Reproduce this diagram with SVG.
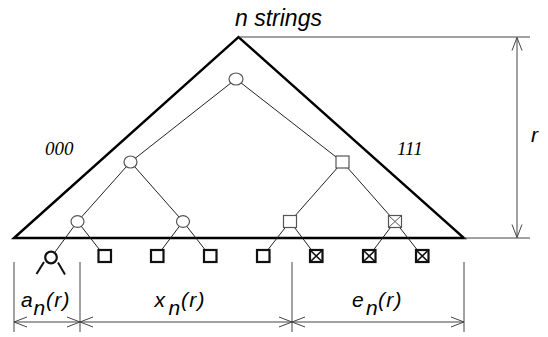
<svg xmlns="http://www.w3.org/2000/svg" width="548" height="337" viewBox="0 0 548 337">
<style>
.tri{fill:none;stroke:#000;stroke-width:2.4;stroke-linejoin:miter}
.ext{fill:none;stroke:#444;stroke-width:1}
.dim{fill:none;stroke:#444;stroke-width:1}
.edge{stroke:#222;stroke-width:1;fill:none}
.inner{fill:#fff;stroke:#555;stroke-width:1.2}
.leaf{fill:#fff;stroke:#111;stroke-width:2.2}
.leafx{fill:none;stroke:#111;stroke-width:1.6}
.innerx{fill:none;stroke:#555;stroke-width:1}
.lab{font-family:"Liberation Sans",Arial,sans-serif;font-style:italic;fill:#000}
.ser{font-family:"Liberation Serif","Times New Roman",serif;font-style:italic;fill:#000}
</style>
<defs>
<marker id="ah" markerUnits="userSpaceOnUse" markerWidth="16" markerHeight="14" viewBox="-14 -7 16 14" refX="0" refY="0" orient="auto-start-reverse">
<path d="M-13,-5 L0,0 L-13,5" fill="none" stroke="#444" stroke-width="1"/>
</marker>
</defs>

<g id="triangle">
<path class="tri" d="M14,238 L238.5,37 L464,238 Z"/>
</g>

<g id="dimensions">
<line class="ext" x1="238.5" y1="37" x2="530" y2="37"/>
<line class="ext" x1="464" y1="238" x2="530" y2="238"/>
<line class="dim" x1="517" y1="37.5" x2="517" y2="237.5" marker-start="url(#ah)" marker-end="url(#ah)"/>
<line class="ext" x1="14" y1="262" x2="14" y2="332"/>
<line class="ext" x1="80" y1="262" x2="80" y2="332"/>
<line class="ext" x1="292" y1="262" x2="292" y2="332"/>
<line class="ext" x1="464" y1="262" x2="464" y2="332"/>
<line class="dim" x1="14" y1="322" x2="80" y2="322" marker-start="url(#ah)" marker-end="url(#ah)"/>
<line class="dim" x1="80" y1="322" x2="292" y2="322" marker-start="url(#ah)" marker-end="url(#ah)"/>
<line class="dim" x1="292" y1="322" x2="464" y2="322" marker-start="url(#ah)" marker-end="url(#ah)"/>
</g>

<g id="connectors">
<line class="edge" x1="236" y1="79" x2="130.5" y2="162"/>
<line class="edge" x1="236" y1="79" x2="342.5" y2="162"/>
<line class="edge" x1="130.5" y1="162" x2="77.5" y2="221.5"/>
<line class="edge" x1="130.5" y1="162" x2="183" y2="221.5"/>
<line class="edge" x1="342.5" y1="162" x2="290" y2="221.5"/>
<line class="edge" x1="342.5" y1="162" x2="395" y2="221.5"/>
<line class="edge" x1="77.5" y1="221.5" x2="51" y2="257.5"/>
<line class="edge" x1="77.5" y1="221.5" x2="104.5" y2="256"/>
<line class="edge" x1="183" y1="221.5" x2="157" y2="256"/>
<line class="edge" x1="183" y1="221.5" x2="210" y2="256"/>
<line class="edge" x1="290" y1="221.5" x2="263" y2="256"/>
<line class="edge" x1="290" y1="221.5" x2="316" y2="256"/>
<line class="edge" x1="395" y1="221.5" x2="369" y2="256"/>
<line class="edge" x1="395" y1="221.5" x2="422" y2="256"/>
</g>

<g id="root"><ellipse class="inner" cx="236" cy="79" rx="7" ry="6"/></g>
<g id="n0"><ellipse class="inner" cx="130.5" cy="162" rx="6.5" ry="6"/></g>
<g id="n1"><rect class="inner" x="336" y="156" width="13" height="12"/></g>
<g id="n00"><ellipse class="inner" cx="77.5" cy="221.5" rx="6.5" ry="5.8"/></g>
<g id="n01"><ellipse class="inner" cx="183" cy="221.5" rx="6.5" ry="5.8"/></g>
<g id="n10"><rect class="inner" x="283.5" y="215.5" width="13" height="12"/></g>
<g id="n11"><rect class="inner" x="388.5" y="215.5" width="13" height="12"/><path class="innerx" d="M388.5,215.5 L401.5,227.5 M401.5,215.5 L388.5,227.5"/></g>

<g id="leaf000">
<circle class="leaf" cx="51" cy="257.5" r="5.8"/>
<line x1="44" y1="262" x2="36.5" y2="274" stroke="#111" stroke-width="2"/>
<line x1="58" y1="262.5" x2="65" y2="274.5" stroke="#111" stroke-width="2"/>
</g>
<g id="leaf001"><rect class="leaf" x="98.5" y="250" width="12.5" height="12"/></g>
<g id="leaf010"><rect class="leaf" x="151" y="250" width="12.5" height="12"/></g>
<g id="leaf011"><rect class="leaf" x="204" y="250" width="12.5" height="12"/></g>
<g id="leaf100"><rect class="leaf" x="257" y="250" width="12.5" height="12"/></g>
<g id="leaf101"><rect class="leaf" x="310" y="250" width="12.5" height="12"/><path class="leafx" d="M310,250 L322.5,262 M322.5,250 L310,262"/></g>
<g id="leaf110"><rect class="leaf" x="363" y="250" width="12.5" height="12"/><path class="leafx" d="M363,250 L375.5,262 M375.5,250 L363,262"/></g>
<g id="leaf111"><rect class="leaf" x="416" y="250" width="12.5" height="12"/><path class="leafx" d="M416,250 L428.5,262 M428.5,250 L416,262"/></g>

<g id="labels">
<text class="lab" x="235" y="26" font-size="23">n strings</text>
<text class="lab" x="531" y="142" font-size="21">r</text>
<text class="ser" x="45" y="155" font-size="19">000</text>
<text class="ser" x="397" y="155" font-size="19">111</text>
<text class="lab" font-size="21"><tspan x="21" y="307">a</tspan><tspan x="33.5" y="314.5">n</tspan><tspan x="46" y="307" letter-spacing="1.2">(r)</tspan></text>
<text class="lab" font-size="21"><tspan x="154.5" y="307">x</tspan><tspan x="168.5" y="314.5">n</tspan><tspan x="181" y="307" letter-spacing="1.2">(r)</tspan></text>
<text class="lab" font-size="21"><tspan x="352" y="307">e</tspan><tspan x="366" y="314.5">n</tspan><tspan x="378" y="307" letter-spacing="1.2">(r)</tspan></text>
</g>
</svg>
